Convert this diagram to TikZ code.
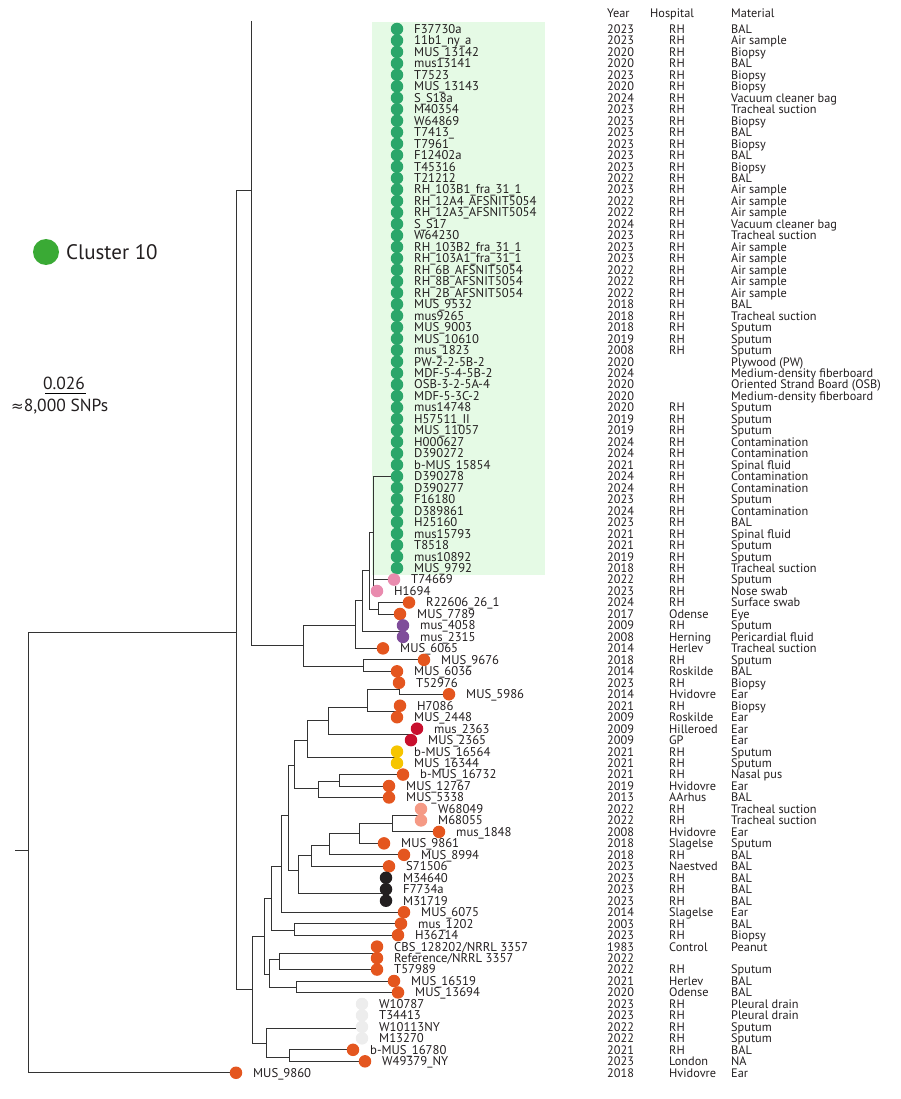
\documentclass[tikz,border=0pt]{standalone}
\usepackage{fontspec}
\setmainfont{PT Sans}
\newfontfamily\djv{DejaVu Sans}
\usetikzlibrary{backgrounds}
\definecolor{gdot}{HTML}{2BA66A}
\definecolor{lgreen}{HTML}{3AAA35}
\definecolor{orn}{HTML}{E4561F}
\definecolor{pnk}{HTML}{E98BAE}
\definecolor{prp}{HTML}{7F4C9A}
\definecolor{rdd}{HTML}{C8102E}
\definecolor{ylw}{HTML}{F6C500}
\definecolor{slm}{HTML}{F59A85}
\definecolor{blk}{HTML}{231F20}
\definecolor{gry}{HTML}{EDEDED}
\definecolor{bgg}{HTML}{E5FAE5}
\definecolor{txt}{HTML}{231F20}
\newcommand\lf[8]{%
  \node[dot,fill=#3] (r#1) at (#2,{29+(#1-1)*11.47}) {};
  \node[lab] (t#1) at (#2+17,{33.4+(#1-1)*11.47}) {#4};
  \node[tab] (y#1) at (607,{33.4+(#1-1)*11.47}) {#5};
  \node[tab] (h#1) at (669,{33.4+(#1-1)*11.47}) {#6};
  \node[tab] (m#1) at (731,{33.4+(#1-1)*11.47}) {#7};}
\newcommand\ed[2]{\draw[br] (#1) |- (#2);}
\begin{document}
\begin{tikzpicture}[x=1pt,y=-1pt,
  dot/.style={circle,inner sep=0pt,minimum size=12.5pt,draw=none},
  lab/.style={anchor=base west,inner sep=0pt,font=\fontsize{12.7}{12.7}\selectfont,text=txt},
  tab/.style={anchor=base west,inner sep=0pt,font=\fontsize{12.3}{12.3}\selectfont,text=txt},
  br/.style={draw=black!80,line width=0.9pt}]
\useasboundingbox (0,0) rectangle (900,1099);
% header
\node[tab] (hy) at (607,17.5) {Year};
\node[tab] (hh) at (650,17.5) {Hospital};
\node[tab] (hm) at (731,17.5) {Material};
% legend
\node[circle,fill=lgreen,minimum size=26pt,inner sep=0pt] (leg) at (46,252) {};
\node[anchor=base west,inner sep=0pt,font=\fontsize{21}{21}\selectfont,text=txt] (legt) at (66,259.5) {Cluster 10};
% scale bar
\node[inner sep=0pt,font=\fontsize{17.5}{17.5}\selectfont,text=txt,anchor=base] (sc1) at (64,389) {0.026};
\coordinate (sb1) at (45,393.5); \coordinate (sb2) at (86,393.5);
\draw[line width=1.2pt] (sb1) -- (sb2);
\node[inner sep=0pt,font=\fontsize{17.5}{17.5}\selectfont,text=txt,anchor=base west] (sc2) at (11,411) {{\djv\fontsize{15}{15}\selectfont ≈}8,000 SNPs};
% leaves
\lf{1}{397}{gdot}{F37730a}{2023}{RH}{BAL}{}
\lf{2}{397}{gdot}{11b1\_ny\_a}{2023}{RH}{Air sample}{}
\lf{3}{397}{gdot}{MUS\_13142}{2020}{RH}{Biopsy}{}
\lf{4}{397}{gdot}{mus13141}{2020}{RH}{BAL}{}
\lf{5}{397}{gdot}{T7523}{2023}{RH}{Biopsy}{}
\lf{6}{397}{gdot}{MUS\_13143}{2020}{RH}{Biopsy}{}
\lf{7}{397}{gdot}{S\_S18a}{2024}{RH}{Vacuum cleaner bag}{}
\lf{8}{397}{gdot}{M40354}{2023}{RH}{Tracheal suction}{}
\lf{9}{397}{gdot}{W64869}{2023}{RH}{Biopsy}{}
\lf{10}{397}{gdot}{T7413\_}{2023}{RH}{BAL}{}
\lf{11}{397}{gdot}{T7961}{2023}{RH}{Biopsy}{}
\lf{12}{397}{gdot}{F12402a}{2023}{RH}{BAL}{}
\lf{13}{397}{gdot}{T45316}{2023}{RH}{Biopsy}{}
\lf{14}{397}{gdot}{T21212}{2022}{RH}{BAL}{}
\lf{15}{397}{gdot}{RH\_103B1\_fra\_31\_1}{2023}{RH}{Air sample}{}
\lf{16}{397}{gdot}{RH\_12A4\_AFSNIT5054}{2022}{RH}{Air sample}{}
\lf{17}{397}{gdot}{RH\_12A3\_AFSNIT5054}{2022}{RH}{Air sample}{}
\lf{18}{397}{gdot}{S\_S17}{2024}{RH}{Vacuum cleaner bag}{}
\lf{19}{397}{gdot}{W64230}{2023}{RH}{Tracheal suction}{}
\lf{20}{397}{gdot}{RH\_103B2\_fra\_31\_1}{2023}{RH}{Air sample}{}
\lf{21}{397}{gdot}{RH\_103A1\_fra\_31\_1}{2023}{RH}{Air sample}{}
\lf{22}{397}{gdot}{RH\_6B\_AFSNIT5054}{2022}{RH}{Air sample}{}
\lf{23}{397}{gdot}{RH\_8B\_AFSNIT5054}{2022}{RH}{Air sample}{}
\lf{24}{397}{gdot}{RH\_2B\_AFSNIT5054}{2022}{RH}{Air sample}{}
\lf{25}{397}{gdot}{MUS\_9532}{2018}{RH}{BAL}{}
\lf{26}{397}{gdot}{mus9265}{2018}{RH}{Tracheal suction}{}
\lf{27}{397}{gdot}{MUS\_9003}{2018}{RH}{Sputum}{}
\lf{28}{397}{gdot}{MUS\_10610}{2019}{RH}{Sputum}{}
\lf{29}{397}{gdot}{mus\_1823}{2008}{RH}{Sputum}{}
\lf{30}{397}{gdot}{PW-2-2-5B-2}{2020}{}{Plywood (PW)}{}
\lf{31}{397}{gdot}{MDF-5-4-5B-2}{2024}{}{Medium-density fiberboard}{}
\lf{32}{397}{gdot}{OSB-3-2-5A-4}{2020}{}{Oriented Strand Board (OSB)}{}
\lf{33}{397}{gdot}{MDF-5-3C-2}{2020}{}{Medium-density fiberboard}{}
\lf{34}{397}{gdot}{mus14748}{2020}{RH}{Sputum}{}
\lf{35}{397}{gdot}{H57511\_II}{2019}{RH}{Sputum}{}
\lf{36}{397}{gdot}{MUS\_11057}{2019}{RH}{Sputum}{}
\lf{37}{397}{gdot}{H000627}{2024}{RH}{Contamination}{}
\lf{38}{397}{gdot}{D390272}{2024}{RH}{Contamination}{}
\lf{39}{397}{gdot}{b-MUS\_15854}{2021}{RH}{Spinal fluid}{}
\lf{40}{397}{gdot}{D390278}{2024}{RH}{Contamination}{}
\lf{41}{397}{gdot}{D390277}{2024}{RH}{Contamination}{}
\lf{42}{397}{gdot}{F16180}{2023}{RH}{Sputum}{}
\lf{43}{397}{gdot}{D389861}{2024}{RH}{Contamination}{}
\lf{44}{397}{gdot}{H25160}{2023}{RH}{BAL}{}
\lf{45}{397}{gdot}{mus15793}{2021}{RH}{Spinal fluid}{}
\lf{46}{397}{gdot}{T8518}{2021}{RH}{Sputum}{}
\lf{47}{397}{gdot}{mus10892}{2019}{RH}{Sputum}{}
\lf{48}{397}{gdot}{MUS\_9792}{2018}{RH}{Tracheal suction}{}
\lf{49}{394}{pnk}{T74669}{2022}{RH}{Sputum}{}
\lf{50}{377}{pnk}{H1694}{2023}{RH}{Nose swab}{}
\lf{51}{409}{orn}{R22606\_26\_1}{2024}{RH}{Surface swab}{}
\lf{52}{400}{orn}{MUS\_7789}{2017}{Odense}{Eye}{}
\lf{53}{403}{prp}{mus\_4058}{2009}{RH}{Sputum}{}
\lf{54}{403}{prp}{mus\_2315}{2008}{Herning}{Pericardial fluid}{}
\lf{55}{383}{orn}{MUS\_6065}{2014}{Herlev}{Tracheal suction}{}
\lf{56}{424}{orn}{MUS\_9676}{2018}{RH}{Sputum}{}
\lf{57}{397}{orn}{MUS\_6036}{2014}{Roskilde}{BAL}{}
\lf{58}{399}{orn}{T52976}{2023}{RH}{Biopsy}{}
\lf{59}{449}{orn}{MUS\_5986}{2014}{Hvidovre}{Ear}{}
\lf{60}{400}{orn}{H7086}{2021}{RH}{Biopsy}{}
\lf{61}{397}{orn}{MUS\_2448}{2009}{Roskilde}{Ear}{}
\lf{62}{417}{rdd}{mus\_2363}{2009}{Hilleroed}{Ear}{}
\lf{63}{411}{rdd}{MUS\_2365}{2009}{GP}{Ear}{}
\lf{64}{397}{ylw}{b-MUS\_16564}{2021}{RH}{Sputum}{}
\lf{65}{397}{ylw}{MUS\_16344}{2021}{RH}{Sputum}{}
\lf{66}{403}{orn}{b-MUS\_16732}{2021}{RH}{Nasal pus}{}
\lf{67}{389}{orn}{MUS\_12767}{2019}{Hvidovre}{Ear}{}
\lf{68}{389}{orn}{MUS\_5338}{2013}{AArhus}{BAL}{}
\lf{69}{421}{slm}{W68049}{2022}{RH}{Tracheal suction}{}
\lf{70}{421}{slm}{M68055}{2022}{RH}{Tracheal suction}{}
\lf{71}{439}{orn}{mus\_1848}{2008}{Hvidovre}{Ear}{}
\lf{72}{384}{orn}{MUS\_9861}{2018}{Slagelse}{Sputum}{}
\lf{73}{404}{orn}{MUS\_8994}{2018}{RH}{BAL}{}
\lf{74}{389}{orn}{S71506}{2023}{Naestved}{BAL}{}
\lf{75}{386}{blk}{M34640}{2023}{RH}{BAL}{}
\lf{76}{386}{blk}{F7734a}{2023}{RH}{BAL}{}
\lf{77}{386}{blk}{M31719}{2023}{RH}{BAL}{}
\lf{78}{404}{orn}{MUS\_6075}{2014}{Slagelse}{Ear}{}
\lf{79}{401}{orn}{mus\_1202}{2003}{RH}{BAL}{}
\lf{80}{398}{orn}{H36214}{2023}{RH}{Biopsy}{}
\lf{81}{377}{orn}{CBS\_128202/NRRL 3357}{1983}{Control}{Peanut}{}
\lf{82}{377}{orn}{Reference/NRRL 3357}{2022}{}{}{}
\lf{83}{377}{orn}{T57989}{2022}{RH}{Sputum}{}
\lf{84}{394}{orn}{MUS\_16519}{2021}{Herlev}{BAL}{}
\lf{85}{398}{orn}{MUS\_13694}{2020}{Odense}{BAL}{}
\lf{86}{362}{gry}{W10787}{2023}{RH}{Pleural drain}{}
\lf{87}{362}{gry}{T34413}{2023}{RH}{Pleural drain}{}
\lf{88}{362}{gry}{W10113NY}{2022}{RH}{Sputum}{}
\lf{89}{362}{gry}{M13270}{2022}{RH}{Sputum}{}
\lf{90}{353}{orn}{b-MUS\_16780}{2021}{RH}{BAL}{}
\lf{91}{365}{orn}{W49379\_NY}{2023}{London}{NA}{}
\lf{92}{236}{orn}{MUS\_9860}{2018}{Hvidovre}{Ear}{}
% internal nodes
\coordinate (root) at (28,850); \coordinate (rt) at (15,850);
\coordinate (A) at (236,632);
\coordinate (B) at (251,190); \coordinate (Btop) at (251,21);
\coordinate (C) at (252,989);
\coordinate (D) at (303,645);
\coordinate (E) at (355,625);
\coordinate (F) at (363,666);
\coordinate (P1) at (362,600);
\coordinate (P2) at (369,570);
\coordinate (P3) at (373,532);
\coordinate (Q) at (378,609);
\coordinate (clu) at (397,476);
\coordinate (pur) at (403,631);
\coordinate (K1) at (264,936);
\coordinate (K2) at (266,1043);
\coordinate (K3) at (271,898);
\coordinate (K4) at (269,974);
\coordinate (K5) at (281,866);
\coordinate (K6) at (294,930);
\coordinate (K7) at (279,959);
\coordinate (K8) at (296,987);
\coordinate (K9) at (289,1057);
\coordinate (refp) at (377,953);
\coordinate (gryp) at (357,1028);
\coordinate (M1) at (288,815);
\coordinate (M2) at (294,765);
\coordinate (M3) at (298,870);
\coordinate (M4) at (307,740);
\coordinate (M5) at (318,788);
\coordinate (M6) at (339,781);
\coordinate (N2) at (328,720);
\coordinate (N0) at (367,707);
\coordinate (N1) at (399,689);
\coordinate (hp) at (398,711);
\coordinate (redp) at (410,734);
\coordinate (yelp) at (397,757);
\coordinate (N5) at (311,855);
\coordinate (N6) at (329,845);
\coordinate (N7) at (359,833);
\coordinate (N8) at (392,823);
\coordinate (salp) at (421,815);
\coordinate (blkp) at (386,893);
\begin{scope}[on background layer]
\fill[bgg] (372,22) rectangle (545,575);
\draw[br] (rt) -- (root);
\ed{root}{A}\ed{root}{r92}
\ed{A}{B}\ed{A}{C}
\draw[br] (Btop) -- (B);
\ed{B}{D}
\ed{D}{E}\ed{D}{F}
\ed{E}{P1}\ed{E}{r55}
\ed{P1}{P2}\ed{P1}{pur}
\ed{P2}{P3}\ed{P2}{Q}
\ed{P3}{clu}\ed{P3}{r49}\ed{P3}{r50}
\ed{Q}{r51}\ed{Q}{r52}
\draw[br] (r53) -- (r54);
\ed{F}{r56}\ed{F}{r57}
\ed{C}{K1}\ed{C}{K2}
\ed{K1}{K3}\ed{K1}{K4}
\ed{K3}{K5}\ed{K3}{K6}
\ed{K6}{r79}\ed{K6}{r80}
\ed{K5}{M1}\ed{K5}{r78}
\ed{K4}{K7}\ed{K4}{K8}
\ed{K7}{refp}\ed{K7}{r83}
\draw[br] (r81) -- (r82);
\ed{K8}{r84}\ed{K8}{r85}
\ed{K2}{gryp}\ed{K2}{K9}
\ed{K9}{r90}\ed{K9}{r91}
\ed{M1}{M2}\ed{M1}{M3}
\ed{M2}{M4}\ed{M2}{M5}
\ed{M4}{N2}\ed{M4}{yelp}
\ed{N2}{N0}\ed{N2}{redp}
\ed{N0}{N1}\ed{N0}{hp}
\ed{N1}{r58}\ed{N1}{r59}
\draw[br] (r60) -- (r61);
\draw[br] (r62) -- (r63);
\draw[br] (r64) -- (r65);
\ed{M5}{M6}\ed{M5}{r68}
\ed{M6}{r66}\ed{M6}{r67}
\ed{M3}{N5}\ed{M3}{blkp}
\ed{N5}{N6}\ed{N5}{r74}
\ed{N6}{N7}\ed{N6}{r73}
\ed{N7}{N8}\ed{N7}{r72}
\ed{N8}{salp}\ed{N8}{r71}
\draw[br] (r69) -- (r70);
\draw[br] (r75) -- (r77);
\end{scope}
\end{tikzpicture}
\end{document}
